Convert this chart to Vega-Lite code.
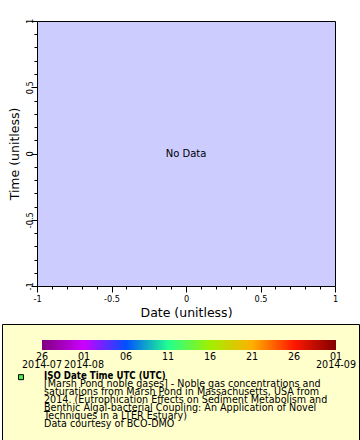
{
  "$schema": "https://vega.github.io/schema/vega-lite/v6.json",
  "padding": {"left": 1, "top": 17, "right": 0, "bottom": 0},
  "autosize": {"type": "pad"},
  "background": "#ffffff",
  "config": {
    "font": "DejaVu Sans",
    "view": {"stroke": null},
    "axis": {"labelColor": "#000000", "titleColor": "#000000", "tickColor": "#000000", "titleFontWeight": "normal", "grid": false, "domain": false, "labelOverlap": false, "labelBound": false, "labelFlush": false}
  },
  "datasets": {
    "empty": [{"x": 0, "y": 0, "label": "No Data"}],
    "nothing": [],
    "bar": [{"p0": 0, "p1": 7, "line": 0}],
    "ticks": [
      {"p": 0, "line": 1, "text": "26"}, {"p": 0, "line": 2, "text": "2014-07"},
      {"p": 1, "line": 1, "text": "01"}, {"p": 1, "line": 2, "text": "2014-08"},
      {"p": 2, "line": 1, "text": "06"},
      {"p": 3, "line": 1, "text": "11"},
      {"p": 4, "line": 1, "text": "16"},
      {"p": 5, "line": 1, "text": "21"},
      {"p": 6, "line": 1, "text": "26"},
      {"p": 7, "line": 1, "text": "01"}, {"p": 7, "line": 2, "text": "2014-09"}
    ],
    "caption": [
      {"p": 0, "line": 3, "text": "ISO Date Time UTC (UTC)", "kind": "title"},
      {"p": 0, "line": 4, "text": "[Marsh Pond noble gases] - Noble gas concentrations and", "kind": "body"},
      {"p": 0, "line": 5, "text": "saturations from Marsh Pond in Massachusetts, USA from", "kind": "body"},
      {"p": 0, "line": 6, "text": "2014. (Eutrophication Effects on Sediment Metabolism and", "kind": "body"},
      {"p": 0, "line": 7, "text": "Benthic Algal-bacterial Coupling: An Application of Novel", "kind": "body"},
      {"p": 0, "line": 8, "text": "Techniques in a LTER Estuary)", "kind": "body"},
      {"p": 0, "line": 9, "text": "Data courtesy of BCO-DMO", "kind": "body"}
    ],
    "marker": [{"p": -0.5, "line": 3}]
  },
  "vconcat": [
    {
      "hconcat": [
        {
          "width": 1,
          "height": 1,
          "data": {"name": "nothing"},
          "mark": "point",
          "encoding": {}
        },
        {
          "width": 298,
          "height": 265,
          "view": {"fill": "#ccccff", "stroke": "#000000", "strokeWidth": 1},
          "data": {"name": "empty"},
          "mark": {"type": "text", "fontSize": 10, "color": "#000000", "font": "DejaVu Sans"},
          "encoding": {
            "x": {
              "field": "x", "type": "quantitative",
              "scale": {"domain": [-1, 1], "nice": false, "zero": false},
              "axis": {
                "title": "Date (unitless)", "titleFontSize": 12.5, "titlePadding": 4,
                "values": [-1, -0.9, -0.8, -0.7, -0.6, -0.5, -0.4, -0.3, -0.2, -0.1, 0, 0.1, 0.2, 0.3, 0.4, 0.5, 0.6, 0.7, 0.8, 0.9, 1],
                "labelExpr": "abs(datum.value*2 - round(datum.value*2)) < 0.01 ? '' + round(datum.value*10)/10 : ''",
                "tickSize": {"condition": {"test": "abs(datum.value*2 - round(datum.value*2)) < 0.01", "value": 6}, "value": 3},
                "labelFontSize": 8.2, "labelPadding": 3
              }
            },
            "y": {
              "field": "y", "type": "quantitative",
              "scale": {"domain": [-1, 1], "nice": false, "zero": false},
              "axis": {
                "title": "Time (unitless)", "titleFontSize": 12.5, "titlePadding": 3.5,
                "values": [-1, -0.9, -0.8, -0.7, -0.6, -0.5, -0.4, -0.3, -0.2, -0.1, 0, 0.1, 0.2, 0.3, 0.4, 0.5, 0.6, 0.7, 0.8, 0.9, 1],
                "labelExpr": "abs(datum.value*2 - round(datum.value*2)) < 0.01 ? '' + round(datum.value*10)/10 : ''",
                "tickSize": {"condition": {"test": "abs(datum.value*2 - round(datum.value*2)) < 0.01", "value": 6}, "value": 3},
                "labelFontSize": 8.2, "labelAngle": -90, "labelAlign": "center", "labelBaseline": "alphabetic", "labelPadding": -1
              }
            },
            "text": {"field": "label"}
          }
        }
      ],
      "spacing": 5
    },
    {
      "width": 357,
      "height": 116,
      "view": {"fill": "#ffffcc", "stroke": "#000000", "strokeWidth": 1},
      "encoding": {
        "x": {"field": "p", "type": "quantitative", "scale": {"domain": [0, 7], "range": [40, 334], "nice": false, "zero": false}, "axis": null},
        "y": {"field": "line", "type": "quantitative", "scale": {"domain": [0, 9], "range": [16, 97], "nice": false, "zero": false}, "axis": null}
      },
      "layer": [
        {
          "data": {"name": "bar"},
          "mark": {
            "type": "bar", "height": 10,
            "color": {"x1": 0, "x2": 1, "y1": 0, "y2": 0, "gradient": "linear", "stops": [
              {"offset": 0, "color": "#800080"},
              {"offset": 0.142857, "color": "#cc00ff"},
              {"offset": 0.285714, "color": "#0050ff"},
              {"offset": 0.428571, "color": "#20ff90"},
              {"offset": 0.571429, "color": "#a0f000"},
              {"offset": 0.714286, "color": "#ffb000"},
              {"offset": 0.857143, "color": "#ff1800"},
              {"offset": 1, "color": "#800000"}
            ]}
          },
          "encoding": {
            "x": {"field": "p0", "type": "quantitative"},
            "x2": {"field": "p1"}
          }
        },
        {
          "data": {"name": "ticks"},
          "mark": {"type": "text", "fontSize": 9.6, "align": "center", "baseline": "alphabetic", "dy": 7.5, "color": "#000000"},
          "encoding": {"text": {"field": "text"}}
        },
        {
          "data": {"name": "caption"},
          "transform": [{"filter": "datum.kind === 'body'"}],
          "mark": {"type": "text", "fontSize": 9.6, "align": "left", "baseline": "alphabetic", "dx": 2, "dy": 10.5, "color": "#000000"},
          "encoding": {"text": {"field": "text"}}
        },
        {
          "data": {"name": "caption"},
          "transform": [{"filter": "datum.kind === 'title'"}],
          "mark": {"type": "text", "fontSize": 9.6, "font": "DejaVu Sans Condensed, DejaVu Sans", "fontWeight": "bold", "align": "left", "baseline": "alphabetic", "dx": 2, "dy": 10.5, "color": "#000000"},
          "encoding": {"text": {"field": "text"}}
        },
        {
          "data": {"name": "marker"},
          "mark": {"type": "point", "shape": "square", "size": 25, "filled": true, "fill": "#44ee44", "stroke": "#000000", "strokeWidth": 1, "opacity": 1, "yOffset": 8.5}
        }
      ]
    }
  ],
  "spacing": 3
}
